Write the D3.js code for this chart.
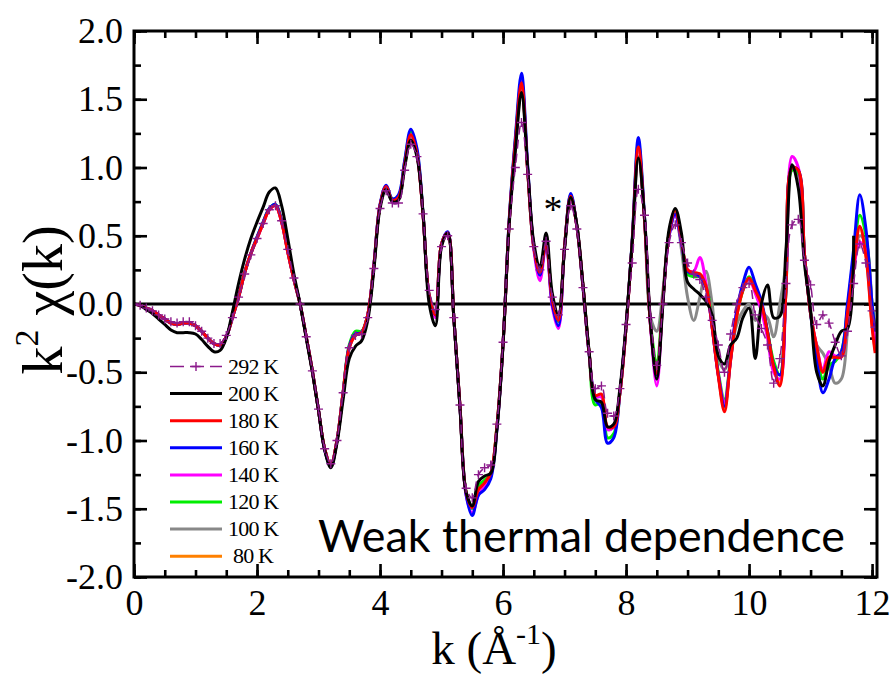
<!DOCTYPE html>
<html lang="en">
<head>
<meta charset="utf-8">
<title>k2 chi(k)</title>
<style>
  body { margin: 0; background: #fff; }
  svg { display: block; background: #fff; }
  svg text.serif { font-family: 'Liberation Serif', 'Times New Roman', serif; }
  svg text.sans { font-family: Lato, 'Open Sans', sans-serif; }
</style>
</head>
<body>
<svg id="chart" width="896" height="679"></svg>
<script src="https://cdn.jsdelivr.net/npm/d3@7/dist/d3.min.js"></script>
<script>
// k grid (Å^-1)
var kGrid = [
  0.0,0.1,0.2,0.3,0.4,0.5,0.6,0.7,0.8,0.9,
  1.0,1.1,1.2,1.3,1.4,1.5,1.6,1.7,1.8,1.9,
  2.0,2.1,2.2,2.3,2.4,2.5,2.6,2.7,2.8,2.9,
  3.0,3.1,3.2,3.3,3.4,3.5,3.6,3.7,3.8,3.9,
  4.0,4.1,4.2,4.3,4.4,4.5,4.6,4.7,4.8,4.9,
  5.0,5.1,5.2,5.3,5.4,5.5,5.6,5.7,5.8,5.9,
  6.0,6.1,6.2,6.3,6.4,6.5,6.6,6.7,6.8,6.9,
  7.0,7.1,7.2,7.3,7.4,7.5,7.6,7.7,7.8,7.9,
  8.0,8.1,8.2,8.3,8.4,8.5,8.6,8.7,8.8,8.9,
  9.0,9.1,9.2,9.3,9.4,9.5,9.6,9.7,9.8,9.9,
  10.0,10.1,10.2,10.3,10.4,10.5,10.6,10.7,10.8,10.9,
  11.0,11.1,11.2,11.3,11.4,11.5,11.6,11.7,11.8,11.9,
  12.0,12.05
];

// k^2 chi(k) per temperature
var chi292 = [
  0.00,-0.01,-0.03,-0.05,-0.08,-0.11,-0.13,-0.14,-0.13,-0.13,
  -0.16,-0.20,-0.25,-0.29,-0.29,-0.23,-0.10,0.05,0.22,0.36,
  0.48,0.59,0.69,0.72,0.61,0.40,0.19,0.00,-0.24,-0.49,
  -0.77,-1.06,-1.17,-1.00,-0.65,-0.32,-0.23,-0.22,-0.10,0.26,
  0.70,0.83,0.74,0.74,0.98,1.17,1.08,0.66,0.10,-0.04,
  0.42,0.50,-0.10,-0.74,-1.35,-1.42,-1.25,-1.20,-1.18,-0.88,
  -0.28,0.55,1.00,1.33,0.95,0.42,0.25,0.46,0.05,-0.08,
  0.40,0.72,0.55,0.12,-0.35,-0.62,-0.60,-0.80,-0.82,-0.62,
  -0.15,0.30,0.84,0.65,-0.10,-0.45,0.00,0.45,0.58,0.45,
  0.30,0.22,0.18,0.05,-0.12,-0.30,-0.50,-0.22,0.00,0.12,
  0.15,-0.08,-0.18,-0.30,-0.58,-0.40,0.15,0.58,0.62,0.32,
  0.14,-0.15,-0.08,-0.14,-0.28,-0.38,-0.20,0.15,0.44,0.30,
  -0.05,-0.17
];
var chi200 = [
  0.00,-0.01,-0.04,-0.07,-0.11,-0.15,-0.19,-0.21,-0.21,-0.21,
  -0.22,-0.26,-0.31,-0.35,-0.34,-0.25,-0.06,0.15,0.33,0.48,
  0.60,0.71,0.82,0.85,0.72,0.48,0.22,0.00,-0.25,-0.50,
  -0.78,-1.07,-1.20,-1.02,-0.70,-0.40,-0.31,-0.27,-0.12,0.25,
  0.70,0.84,0.75,0.76,1.00,1.20,1.08,0.66,0.00,-0.16,
  0.42,0.52,-0.10,-0.76,-1.38,-1.48,-1.30,-1.26,-1.24,-0.92,
  -0.30,0.58,1.12,1.55,1.00,0.45,0.27,0.52,0.08,-0.08,
  0.40,0.78,0.58,0.14,-0.35,-0.70,-0.72,-0.90,-0.88,-0.62,
  -0.15,0.45,1.07,0.64,-0.15,-0.55,0.00,0.55,0.70,0.52,
  0.16,0.11,0.07,0.02,-0.08,-0.38,-0.44,-0.30,-0.25,-0.10,
  -0.03,-0.40,0.00,0.14,-0.10,-0.09,0.40,1.02,0.85,0.30,
  -0.05,-0.50,-0.60,-0.42,-0.30,-0.20,-0.18,0.50,null,null,
  null,null
];
var chi180 = [
  0.00,-0.01,-0.03,-0.05,-0.08,-0.11,-0.14,-0.15,-0.14,-0.14,
  -0.16,-0.20,-0.25,-0.29,-0.30,-0.24,-0.10,0.05,0.23,0.37,
  0.48,0.59,0.69,0.72,0.60,0.38,0.18,0.00,-0.24,-0.49,
  -0.78,-1.06,-1.18,-1.00,-0.65,-0.32,-0.23,-0.21,-0.08,0.28,
  0.72,0.86,0.76,0.78,1.02,1.24,1.10,0.65,0.06,-0.08,
  0.44,0.52,-0.10,-0.75,-1.38,-1.49,-1.36,-1.31,-1.24,-0.90,
  -0.29,0.60,1.18,1.62,0.98,0.42,0.23,0.46,0.03,-0.12,
  0.42,0.79,0.57,0.13,-0.36,-0.67,-0.66,-0.90,-0.90,-0.65,
  -0.17,0.45,1.15,0.62,-0.17,-0.51,0.03,0.52,0.69,0.47,
  0.25,0.23,0.22,0.13,-0.17,-0.53,-0.79,-0.41,-0.09,0.10,
  0.19,0.10,0.00,-0.21,-0.46,-0.60,0.10,1.00,0.98,0.37,
  -0.07,-0.31,-0.50,-0.39,-0.39,-0.39,-0.07,0.27,0.57,0.35,
  -0.17,-0.36
];
var chi160 = [
  0.00,-0.01,-0.03,-0.05,-0.08,-0.11,-0.14,-0.15,-0.14,-0.14,
  -0.16,-0.20,-0.25,-0.29,-0.30,-0.24,-0.10,0.05,0.23,0.37,
  0.49,0.60,0.70,0.73,0.61,0.39,0.18,0.00,-0.24,-0.49,
  -0.78,-1.07,-1.19,-1.00,-0.65,-0.31,-0.22,-0.21,-0.08,0.29,
  0.73,0.87,0.77,0.80,1.05,1.28,1.14,0.66,0.06,-0.08,
  0.44,0.53,-0.10,-0.76,-1.40,-1.55,-1.40,-1.36,-1.28,-0.92,
  -0.29,0.62,1.22,1.69,1.02,0.42,0.21,0.45,0.00,-0.16,
  0.42,0.81,0.57,0.12,-0.37,-0.70,-0.76,-1.02,-0.98,-0.65,
  -0.17,0.47,1.22,0.64,-0.17,-0.52,0.03,0.50,0.66,0.45,
  0.24,0.22,0.20,0.12,-0.17,-0.52,-0.75,-0.40,-0.05,0.15,
  0.27,0.15,0.02,-0.20,-0.45,-0.52,0.10,1.00,0.98,0.37,
  -0.07,-0.40,-0.65,-0.55,-0.40,-0.35,0.00,0.40,0.80,0.55,
  0.00,-0.20
];
var chi140 = [
  0.00,-0.01,-0.03,-0.05,-0.08,-0.11,-0.14,-0.15,-0.14,-0.14,
  -0.16,-0.20,-0.25,-0.29,-0.30,-0.24,-0.10,0.05,0.23,0.37,
  0.48,0.59,0.69,0.72,0.60,0.38,0.18,0.00,-0.24,-0.49,
  -0.78,-1.06,-1.18,-1.00,-0.65,-0.32,-0.22,-0.21,-0.08,0.28,
  0.72,0.86,0.76,0.78,1.02,1.24,1.10,0.65,0.05,-0.10,
  0.44,0.52,-0.10,-0.75,-1.40,-1.53,-1.40,-1.33,-1.26,-0.91,
  -0.29,0.60,1.18,1.63,0.98,0.40,0.17,0.44,-0.02,-0.18,
  0.42,0.79,0.57,0.13,-0.36,-0.68,-0.68,-0.92,-0.90,-0.65,
  -0.17,0.45,1.15,0.62,-0.17,-0.60,0.03,0.50,0.65,0.45,
  0.25,0.24,0.34,0.15,-0.17,-0.52,-0.72,-0.41,-0.05,0.12,
  0.18,0.08,-0.05,-0.25,-0.50,-0.55,0.15,1.08,1.00,0.37,
  -0.07,-0.31,-0.48,-0.35,-0.38,-0.38,-0.07,0.25,0.45,0.40,
  -0.05,-0.30
];
var chi120 = [
  0.00,-0.01,-0.03,-0.05,-0.08,-0.11,-0.14,-0.15,-0.14,-0.14,
  -0.16,-0.20,-0.25,-0.29,-0.30,-0.24,-0.10,0.05,0.23,0.37,
  0.49,0.60,0.70,0.73,0.61,0.39,0.18,0.00,-0.24,-0.49,
  -0.78,-1.06,-1.18,-1.00,-0.64,-0.30,-0.20,-0.20,-0.08,0.28,
  0.72,0.86,0.77,0.79,1.04,1.26,1.12,0.66,0.06,-0.08,
  0.44,0.52,-0.10,-0.75,-1.38,-1.50,-1.33,-1.29,-1.24,-0.90,
  -0.29,0.61,1.20,1.64,0.99,0.41,0.22,0.45,0.02,-0.13,
  0.42,0.80,0.57,0.13,-0.36,-0.74,-0.72,-0.98,-0.95,-0.65,
  -0.17,0.46,1.18,0.63,-0.15,-0.42,0.05,0.52,0.66,0.46,
  0.22,0.20,0.20,0.14,-0.15,-0.50,-0.70,-0.40,-0.08,0.10,
  0.20,0.12,0.00,-0.20,-0.42,-0.52,0.10,0.98,0.96,0.37,
  -0.07,-0.35,-0.55,-0.45,-0.42,-0.35,-0.03,0.35,0.65,0.50,
  0.00,-0.20
];
var chi100 = [
  0.00,-0.01,-0.03,-0.05,-0.08,-0.11,-0.14,-0.15,-0.14,-0.14,
  -0.16,-0.20,-0.25,-0.29,-0.30,-0.24,-0.10,0.05,0.23,0.37,
  0.48,0.59,0.69,0.72,0.60,0.38,0.18,0.00,-0.24,-0.49,
  -0.78,-1.06,-1.18,-1.00,-0.65,-0.32,-0.23,-0.21,-0.08,0.28,
  0.72,0.86,0.76,0.78,1.02,1.22,1.10,0.65,0.05,-0.08,
  0.44,0.52,-0.10,-0.75,-1.38,-1.48,-1.34,-1.30,-1.24,-0.90,
  -0.29,0.60,1.15,1.58,0.98,0.42,0.24,0.46,0.04,-0.10,
  0.42,0.78,0.57,0.13,-0.36,-0.68,-0.68,-0.92,-0.90,-0.65,
  -0.17,0.45,1.08,0.62,-0.10,-0.20,0.10,0.52,0.66,0.40,
  0.05,-0.12,0.05,0.24,0.00,-0.40,-0.48,-0.35,-0.15,-0.05,
  0.00,-0.12,-0.07,-0.10,-0.24,0.00,0.30,1.00,0.95,0.35,
  -0.05,-0.30,-0.36,-0.45,-0.58,-0.55,-0.20,0.25,0.50,0.45,
  0.00,-0.20
];
var chi80 = [
  0.00,-0.01,-0.03,-0.05,-0.08,-0.11,-0.14,-0.15,-0.14,-0.14,
  -0.16,-0.20,-0.25,-0.29,-0.30,-0.24,-0.10,0.05,0.23,0.37,
  0.48,0.59,0.69,0.72,0.60,0.38,0.18,0.00,-0.24,-0.49,
  -0.78,-1.06,-1.18,-1.00,-0.65,-0.32,-0.23,-0.21,-0.08,0.28,
  0.72,0.86,0.76,0.78,1.02,1.23,1.10,0.65,0.06,-0.08,
  0.44,0.52,-0.10,-0.75,-1.38,-1.49,-1.35,-1.31,-1.24,-0.90,
  -0.29,0.60,1.17,1.61,0.98,0.42,0.23,0.46,0.03,-0.12,
  0.42,0.79,0.57,0.13,-0.36,-0.67,-0.67,-0.91,-0.90,-0.65,
  -0.17,0.45,1.14,0.62,-0.16,-0.50,0.03,0.52,0.68,0.46,
  0.25,0.23,0.22,0.13,-0.17,-0.52,-0.77,-0.41,-0.09,0.10,
  0.19,0.10,0.00,-0.21,-0.45,-0.58,0.10,0.99,0.97,0.37,
  -0.07,-0.32,-0.50,-0.40,-0.39,-0.38,-0.06,0.28,0.56,0.36,
  -0.15,-0.34
];

var legendLabels = ['292 K', '200 K', '180 K', '160 K', '140 K', '120 K', '100 K', '80 K'];
var seriesValues = [chi292, chi200, chi180, chi160, chi140, chi120, chi100, chi80];
var seriesColors = ['#8b1a8b', '#000000', '#ff0000', '#0000ff', '#ff00ff', '#00ee00', '#888888', '#ff8000'];

var xTicks = [0, 2, 4, 6, 8, 10, 12];
var yTicks = [-2.0, -1.5, -1.0, -0.5, 0.0, 0.5, 1.0, 1.5, 2.0];

var svg = d3.select('#chart'),
    W = +svg.attr('width'),
    H = +svg.attr('height');

var L = 134, R = 877, T = 31, B = 577;

var x = d3.scaleLinear().domain([0, 12.08]).range([L, R]);
var y = d3.scaleLinear().domain([-2, 2]).range([B, T]);

svg.append('defs').append('clipPath').attr('id', 'plotclip')
  .append('rect').attr('x', L).attr('y', T).attr('width', R - L).attr('height', B - T);

// minor ticks
var xMinor = d3.range(0, 12.01, 0.5);
var yMinor = d3.range(-2, 2.01, 0.25);

function styleAxis(g) {
  g.attr('font-family', null).attr('font-size', null);
  g.select('.domain').remove();
  g.selectAll('.tick line').attr('stroke', '#000').attr('stroke-width', 2.6);
  g.selectAll('.tick text').attr('class', 'serif').attr('font-size', 36).attr('fill', '#000');
}

svg.append('g').attr('transform', 'translate(0,' + B + ')')
  .call(d3.axisBottom(x).tickValues(xMinor).tickSize(-7).tickFormat(''))
  .call(styleAxis);
svg.append('g').attr('transform', 'translate(0,' + T + ')')
  .call(d3.axisTop(x).tickValues(xMinor).tickSize(-7).tickFormat(''))
  .call(styleAxis);
svg.append('g').attr('transform', 'translate(' + L + ',0)')
  .call(d3.axisLeft(y).tickValues(yMinor).tickSize(-7).tickFormat(''))
  .call(styleAxis);
svg.append('g').attr('transform', 'translate(' + R + ',0)')
  .call(d3.axisRight(y).tickValues(yMinor).tickSize(-7).tickFormat(''))
  .call(styleAxis);

svg.append('g').attr('transform', 'translate(0,' + B + ')')
  .call(d3.axisBottom(x).tickValues(xTicks).tickSize(-13).tickPadding(12).tickFormat(function(d) { return String(d); }))
  .call(styleAxis);
svg.append('g').attr('transform', 'translate(0,' + T + ')')
  .call(d3.axisTop(x).tickValues(xTicks).tickSize(-13).tickFormat(''))
  .call(styleAxis);
svg.append('g').attr('transform', 'translate(' + L + ',0)')
  .call(d3.axisLeft(y).tickValues(yTicks).tickSize(-13).tickPadding(11).tickFormat(function(d) { return d.toFixed(1); }))
  .call(styleAxis);
svg.append('g').attr('transform', 'translate(' + R + ',0)')
  .call(d3.axisRight(y).tickValues(yTicks).tickSize(-13).tickFormat(''))
  .call(styleAxis);

// zero line
svg.append('line')
  .attr('x1', L).attr('x2', R).attr('y1', y(0)).attr('y2', y(0))
  .attr('stroke', '#000').attr('stroke-width', 3);

// curves
var plot = svg.append('g').attr('clip-path', 'url(#plotclip)');

var line = d3.line()
  .defined(function(d) { return d[1] !== null; })
  .x(function(d) { return x(d[0]); })
  .y(function(d) { return y(d[1]); })
  .curve(d3.curveCatmullRom.alpha(0.5));

for (var i = seriesValues.length - 1; i >= 0; i--) {
  var pts = kGrid.map(function(k, j) { return [k, seriesValues[i][j]]; });
  var path = plot.append('path').datum(pts)
    .attr('fill', 'none')
    .attr('stroke', seriesColors[i])
    .attr('stroke-linejoin', 'round')
    .attr('d', line);
  if (i === 0) {
    path.attr('stroke-width', 1.5).attr('stroke-dasharray', '9,5');
    plot.append('g').selectAll('path')
      .data(pts.filter(function(d) { return d[1] !== null; }))
      .enter().append('path')
      .attr('d', 'M-4.5,0H4.5M0,-4.5V4.5')
      .attr('transform', function(d) { return 'translate(' + x(d[0]) + ',' + y(d[1]) + ')'; })
      .attr('stroke', seriesColors[i])
      .attr('stroke-width', 1.4);
  } else {
    path.attr('stroke-width', 3);
  }
}

// frame
svg.append('rect')
  .attr('x', L).attr('y', T).attr('width', R - L).attr('height', B - T)
  .attr('fill', 'none').attr('stroke', '#000').attr('stroke-width', 3);

// legend
var lg = svg.append('g');
legendLabels.forEach(function(lab, i) {
  var yy = 366.5 + i * 27.1;
  var row = lg.append('g');
  if (i === 0) {
    row.append('line').attr('x1', 170).attr('x2', 222).attr('y1', yy).attr('y2', yy)
      .attr('stroke', seriesColors[i]).attr('stroke-width', 1.5).attr('stroke-dasharray', '14,6');
    row.append('path').attr('d', 'M-4.5,0H4.5M0,-4.5V4.5')
      .attr('transform', 'translate(196,' + yy + ')')
      .attr('stroke', seriesColors[i]).attr('stroke-width', 1.4);
  } else {
    row.append('line').attr('x1', 170).attr('x2', 222).attr('y1', yy).attr('y2', yy)
      .attr('stroke', seriesColors[i]).attr('stroke-width', 3);
  }
  row.append('text').attr('class', 'serif')
    .attr('x', lab.length < 5 ? 233 : 228).attr('y', yy + 7)
    .attr('font-size', 22).attr('letter-spacing', -0.8)
    .text(lab);
});

// asterisk
svg.append('text').attr('class', 'serif').attr('x', 553).attr('y', 222)
  .attr('text-anchor', 'middle').attr('font-size', 38)
  .text('*');

// annotation
var note = svg.append('text').attr('class', 'sans').attr('x', 318).attr('y', 552)
  .attr('font-size', 40)
  .text('Weak thermal dependence');
var nw = note.node().getComputedTextLength();
note.attr('font-size', 40 * 527 / nw);

// axis titles
var yl = svg.append('text').attr('class', 'serif')
  .attr('transform', 'translate(62,' + 300 + ') rotate(-90)')
  .attr('text-anchor', 'middle').attr('font-size', 56);
yl.append('tspan').text('k');
yl.append('tspan').attr('font-size', 34).attr('dy', -24).text('2');
yl.append('tspan').attr('dy', 24).text(' \u03C7(k)');

var xl = svg.append('text').attr('class', 'serif')
  .attr('x', 494).attr('y', 664)
  .attr('text-anchor', 'middle').attr('font-size', 47);
xl.append('tspan').text('k (\u00C5');
xl.append('tspan').attr('font-size', 30).attr('dy', -20).text('-1');
xl.append('tspan').attr('dy', 20).text(')');
</script>
</body>
</html>
